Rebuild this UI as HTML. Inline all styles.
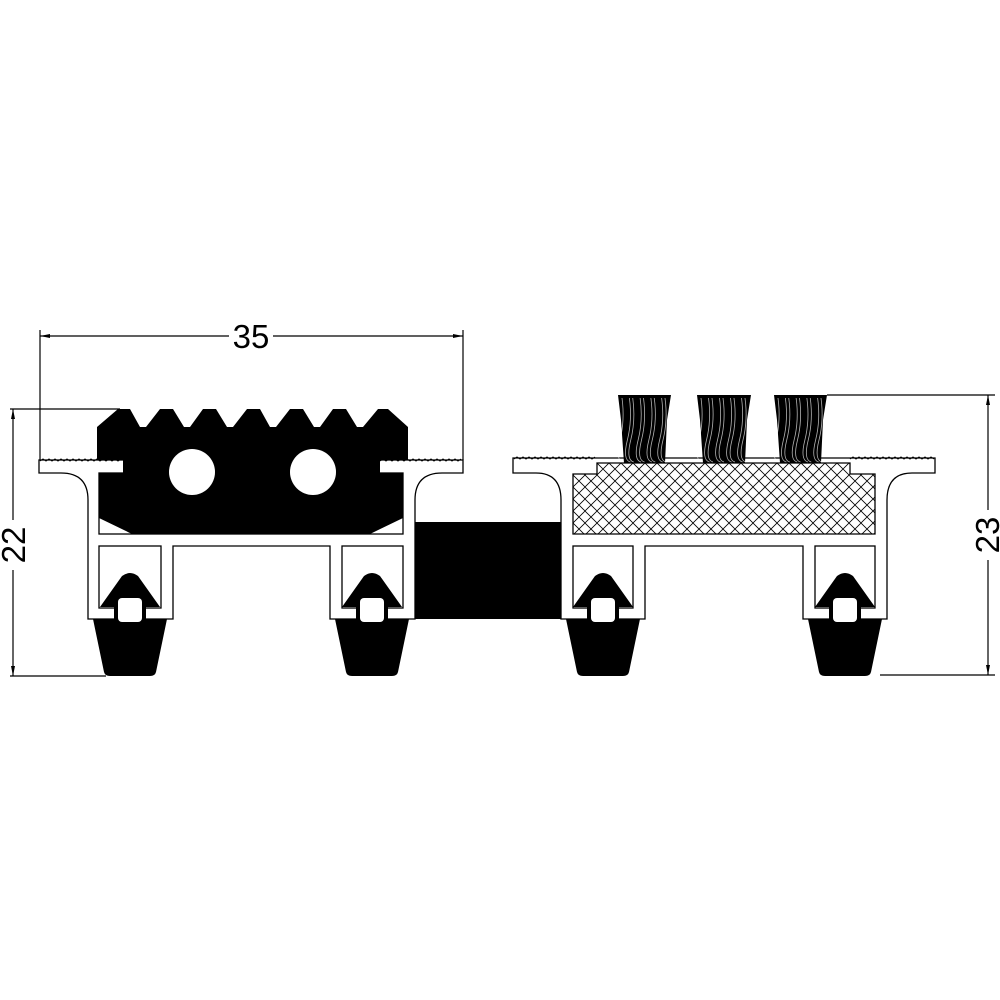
<!DOCTYPE html>
<html><head><meta charset="utf-8"><style>html,body{margin:0;padding:0;background:#fff}svg{display:block}</style></head>
<body>
<svg id="s" width="1000" height="1000" viewBox="0 0 1000 1000" xmlns="http://www.w3.org/2000/svg">
<defs>
<pattern id="xh" x="573" y="463" width="12" height="12" patternUnits="userSpaceOnUse">
<path d="M0,0 L12,12 M12,0 L0,12" fill="none" stroke="#000" stroke-width="0.8"/>
</pattern>
</defs>
<g fill="none" stroke="#000" stroke-width="1.2">
<line x1="40" y1="330" x2="40" y2="460"/>
<line x1="463" y1="330" x2="463" y2="460"/>
<line x1="40" y1="336" x2="229" y2="336"/>
<line x1="273" y1="336" x2="463" y2="336"/>
<line x1="10" y1="409" x2="120" y2="409"/>
<line x1="10" y1="676" x2="106" y2="676"/>
<line x1="13" y1="409" x2="13" y2="520"/>
<line x1="13" y1="570" x2="13" y2="676"/>
<line x1="827" y1="395" x2="995" y2="395"/>
<line x1="880" y1="675" x2="995" y2="675"/>
<line x1="988" y1="395" x2="988" y2="510"/>
<line x1="988" y1="560" x2="988" y2="675"/>
</g>
<g fill="#000">
<path d="M40,336 L50,334 L50,338 Z"/><path d="M463,336 L453,334 L453,338 Z"/>
<path d="M13,409 L11,419 L15,419 Z"/><path d="M13,676 L11,666 L15,666 Z"/>
<path d="M988,395 L986,405 L990,405 Z"/><path d="M988,675 L986,665 L990,665 Z"/>
</g>
<g font-family="Liberation Sans, sans-serif" font-size="33" fill="#000">
<text x="251" y="348" text-anchor="middle">35</text>
<text transform="translate(25,545) rotate(-90)" text-anchor="middle">22</text>
<text transform="translate(999,535) rotate(-90)" text-anchor="middle">23</text>
</g>

<g stroke="#000" stroke-width="1.3" fill="#fff">
<path d="M39,460 L463,460 L463,473 L442,473 Q415,473 415,500 L415,619 L330,619 L330,546 L173,546 L173,619 L88,619 L88,500 Q88,473 61,473 L39,473 Z"/>
<rect x="99" y="473" width="304" height="61"/>
<rect x="99" y="546" width="62" height="62"/>
<rect x="342" y="546" width="61" height="62"/>
</g>
<path fill="#000" d="M97,427 L118,409 L130,409 L140,427 L146,427 L160,409 L173,409 L184,427 L190,427 L203,409 L216,409 L227,427 L233,427 L247,409 L260,409 L270,427 L276,427 L290,409 L303,409 L314,427 L320,427 L333,409 L346,409 L357,427 L363,427 L378,409 L388,409 L408,427 L408,460 L380,460 L380,473 L403,473 L403,518 L370,534 L132,534 L99,518 L99,473 L123,473 L123,460 L97,460 Z"/>
<circle cx="192" cy="472" r="23" fill="#fff"/>
<circle cx="313" cy="472" r="23" fill="#fff"/>
<rect x="415" y="522" width="146" height="97" fill="#000"/>

<g stroke="#000" stroke-width="1.3" fill="#fff">
<path d="M513,458 L935,458 L935,473 L912,473 Q887,473 887,500 L887,619 L803,619 L803,546 L645,546 L645,619 L561,619 L561,500 Q561,473 536,473 L513,473 Z"/>
<path d="M597,463 L850,463 L850,474 L875,474 L875,534 L573,534 L573,474 L597,474 Z" fill="url(#xh)"/>
<rect x="573" y="546" width="60" height="62"/>
<rect x="815" y="546" width="60" height="62"/>
</g>
<g id="brush" fill="#000">
<path d="M618,395 L671,395 L667,420 L665,463 L624,463 L621,420 Z"/>
<path d="M697,395 L751,395 L747,420 L745,463 L703,463 L700,420 Z"/>
<path d="M774,395 L827,395 L823,420 L821,463 L780,463 L777,420 Z"/>
</g>
<g id="waves" fill="none" stroke="#000" stroke-width="1"></g>
<g id="keys"></g>
<g id="streaks" stroke="#fff" stroke-width="0.8" fill="none"></g>
</svg>
<script>
var NS="http://www.w3.org/2000/svg";
function add(p,tag,attrs){var e=document.createElementNS(NS,tag);for(var k in attrs)e.setAttribute(k,attrs[k]);document.getElementById(p).appendChild(e);}
function wave(x1,x2,y){var d="M"+x1+","+y;var up=true;for(var x=x1+3;x<=x2;x+=3){d+=" L"+x+","+(up?y-2:y);up=!up;}add("waves","path",{d:d});}
wave(40,123,461);wave(380,462,461);wave(514,597,459);wave(850,934,459);
[130,372,603,845].forEach(function(c){
 var d="M"+(c-8)+",576 Q"+c+",570 "+(c+8)+",576 L"+(c+30)+",607 L"+(c+16)+",607 L"+(c+16)+",619 L"+(c+37)+",619 L"+(c+26)+",672 Q"+(c+25)+",676 "+(c+20)+",676 L"+(c-20)+",676 Q"+(c-25)+",676 "+(c-26)+",672 L"+(c-37)+",619 L"+(c-16)+",619 L"+(c-16)+",607 L"+(c-30)+",607 Z";
 add("keys","path",{d:d,fill:"#000"});
 add("keys","rect",{x:c-12,y:598,width:24,height:24,rx:4,fill:"#fff"});
});
[[618,671],[697,751],[774,827]].forEach(function(r){
 for(var i=0;i<9;i++){var x=r[0]+5+i*(r[1]-r[0]-10)/8+(i%2?1:-1);
  add("streaks","path",{d:"M"+x+",398 Q"+(x+3)+",420 "+(x-2)+",440 T"+(x+1)+",462",opacity:0.7});}
});
</script>
</body></html>
